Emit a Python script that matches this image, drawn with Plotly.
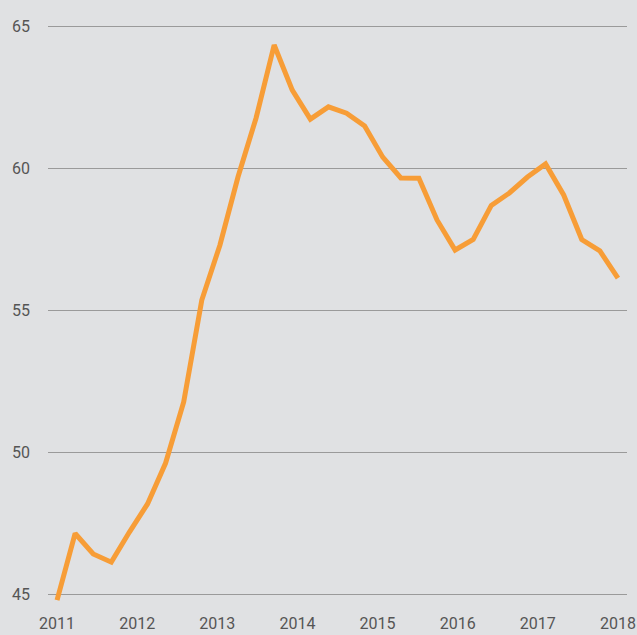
import plotly.graph_objects as go

# Quarterly values, 2011 Q1 .. 2018 Q4 (index positions)
values = [44.8, 47.15, 46.43, 46.14, 47.2, 48.19, 49.63, 51.78,
          55.37, 57.3, 59.7, 61.78, 64.35, 62.76, 61.74, 62.17,
          61.95, 61.5, 60.4, 59.67, 59.66, 58.19, 57.13, 57.5,
          58.7, 59.14, 59.7, 60.16, 59.07, 57.5, 57.1, 56.14]
x_index = list(range(len(values)))
year_labels = ["2011", "2012", "2013", "2014", "2015", "2016", "2017", "2018"]
y_ticks = [45, 50, 55, 60, 65]

n = len(values) - 1
tick_pos = [i * n / (len(year_labels) - 1) for i in range(len(year_labels))]

bg = "#e0e1e3"
fig = go.Figure()
fig.add_trace(go.Scatter(x=x_index, y=values, mode="lines",
                         line=dict(color="#f79d37", width=5, shape="linear"),
                         hoverinfo="skip"))

fig.update_layout(
    width=637, height=635,
    paper_bgcolor=bg, plot_bgcolor=bg,
    margin=dict(l=48, r=10, t=18, b=23, autoexpand=False),
    showlegend=False,
    font=dict(family="Liberation Sans Narrow, Roboto, sans-serif", size=16,
              color="#555555"),
    xaxis=dict(range=[-0.5, n + 0.5], tickmode="array", tickvals=tick_pos,
               ticktext=year_labels, showgrid=False, zeroline=False,
               showline=False, ticks="", fixedrange=True, automargin=False),
    yaxis=dict(range=[44.385, 65.3], tickmode="array", tickvals=y_ticks,
               ticktext=[str(v) for v in y_ticks], showgrid=True,
               gridcolor="#9a9a9a", gridwidth=1.2, zeroline=False,
               showline=False, ticks="", ticklabelstandoff=17,
               automargin=False, fixedrange=True),
)
fig.write_html(
    "out.html",
    config={"displayModeBar": False, "staticPlot": True},
    post_script="document.body.style.margin='0';"
                "document.body.style.background='%s';" % bg,
)
